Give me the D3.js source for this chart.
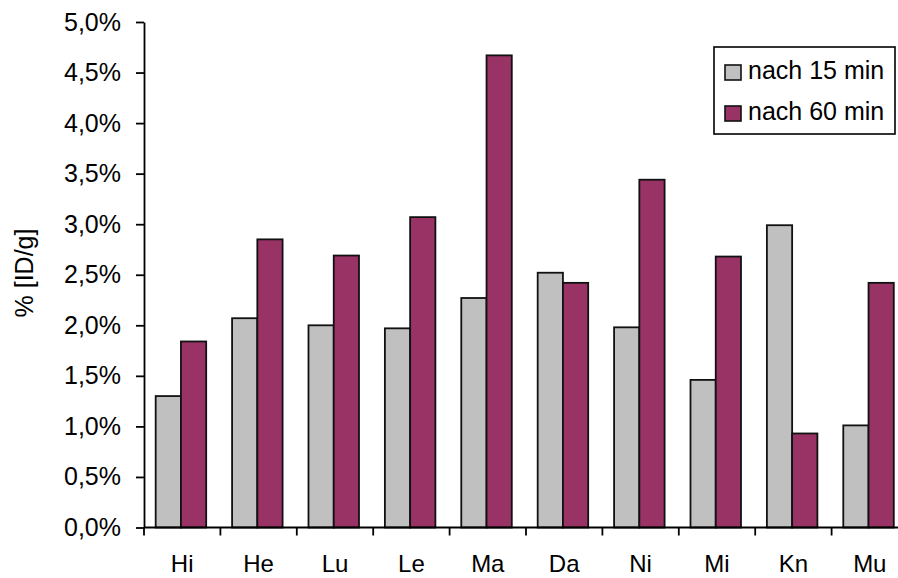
<!DOCTYPE html>
<html>
<head>
<meta charset="utf-8">
<script src="https://cdn.jsdelivr.net/npm/d3@7"></script>
<style>
  html, body { margin: 0; padding: 0; background: #fff; }
  svg { display: block; }
  text { font-family: "Liberation Sans", Arial, sans-serif; fill: #000; }
</style>
</head>
<body>
<svg id="chart" width="898" height="578"></svg>
<script>
// Organ uptake, % injected dose per gram
const categories = ["Hi", "He", "Lu", "Le", "Ma", "Da", "Ni", "Mi", "Kn", "Mu"];
const seriesNames = ["nach 15 min", "nach 60 min"];
const after15 = [1.30, 2.07, 2.00, 1.97, 2.27, 2.52, 1.98, 1.46, 2.99, 1.01];
const after60 = [1.84, 2.85, 2.69, 3.07, 4.67, 2.42, 3.44, 2.68, 0.93, 2.42];
const yTicks = [0, 0.5, 1.0, 1.5, 2.0, 2.5, 3.0, 3.5, 4.0, 4.5, 5.0];
const colors = ["#C0C0C0", "#993366"];
const yTitle = "% [ID/g]";

const svg = d3.select("#chart");
const plotLeft = 144, plotTop = 22, plotBottom = 527.5;
const step = 76.4;

const x0 = d3.scaleBand()
  .domain(categories)
  .range([plotLeft, plotLeft + step * categories.length])
  .padding(0);

const x1 = d3.scaleBand()
  .domain(seriesNames)
  .range([x0.bandwidth() * 0.153, x0.bandwidth() * 0.814])
  .padding(0);

const y = d3.scaleLinear().domain([0, 5]).range([plotBottom, plotTop]);

const fmt = v => d3.format(".1f")(v).replace(".", ",") + "%";

// Bars
const rows = categories.map((c, i) => ({ cat: c, vals: [after15[i], after60[i]] }));
const groups = svg.append("g").selectAll("g")
  .data(rows).join("g")
  .attr("transform", d => `translate(${x0(d.cat)},0)`);

groups.selectAll("rect")
  .data(d => d.vals.map((v, k) => ({ k, v })))
  .join("rect")
  .attr("x", d => x1(seriesNames[d.k]))
  .attr("width", x1.bandwidth())
  .attr("y", d => y(d.v))
  .attr("height", d => y(0) - y(d.v))
  .attr("fill", d => colors[d.k])
  .attr("stroke", "#111")
  .attr("stroke-width", 1.8);

// Y axis
const yAxis = svg.append("g")
  .attr("transform", `translate(${plotLeft},0)`)
  .call(d3.axisLeft(y).tickValues(yTicks).tickFormat(fmt).tickSize(8).tickPadding(15).tickSizeOuter(0));
yAxis.select(".domain").attr("stroke", "#000").attr("stroke-width", 1.8);
yAxis.selectAll(".tick line").attr("stroke", "#000").attr("stroke-width", 1.8);
yAxis.selectAll(".tick text")
  .style("font-family", '"Liberation Sans", Arial, sans-serif')
  .style("font-size", "25px")
  .attr("fill", "#000");

// X axis with ticks at category boundaries
const xAxis = svg.append("g").attr("transform", `translate(0,${plotBottom})`);
xAxis.append("line")
  .attr("x1", plotLeft).attr("x2", x0.range()[1])
  .attr("stroke", "#000").attr("stroke-width", 1.8);
xAxis.selectAll("line.tk")
  .data(categories).join("line").attr("class", "tk")
  .attr("x1", d => x0(d)).attr("x2", d => x0(d))
  .attr("y1", 0).attr("y2", 8)
  .attr("stroke", "#000").attr("stroke-width", 1.8);
xAxis.selectAll("text")
  .data(categories).join("text")
  .attr("x", d => x0(d) + x0.bandwidth() / 2)
  .attr("y", 44.5)
  .attr("text-anchor", "middle")
  .style("font-size", "24px")
  .text(d => d);

// Y axis title
svg.append("text")
  .attr("transform", "translate(33,273) rotate(-90)")
  .attr("text-anchor", "middle")
  .style("font-size", "25px")
  .text(yTitle);

// Legend
const lg = svg.append("g");
lg.append("rect")
  .attr("x", 714).attr("y", 47).attr("width", 181).attr("height", 87)
  .attr("fill", "#fff").attr("stroke", "#000").attr("stroke-width", 1.6);
const items = lg.selectAll("g.item")
  .data(seriesNames).join("g").attr("class", "item")
  .attr("transform", (d, i) => `translate(0,${i * 41})`);
items.append("rect")
  .attr("x", 725).attr("y", 65).attr("width", 16).attr("height", 15)
  .attr("fill", (d, i) => colors[i])
  .attr("stroke", "#111").attr("stroke-width", 1.6);
items.append("text")
  .attr("x", 748).attr("y", 79)
  .style("font-size", "25px")
  .text(d => d);
</script>
</body>
</html>
